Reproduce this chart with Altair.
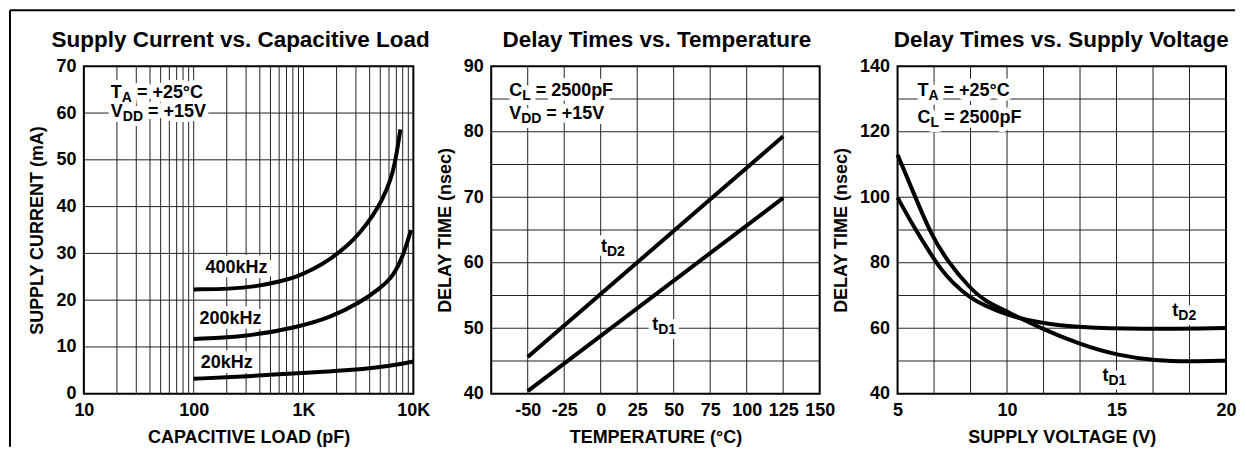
import altair as alt
import pandas as pd

FONT = "Liberation Sans"
GRID = "#222222"

# ---------------- Panel 1: Supply Current vs. Capacitive Load ----------------
p1_title = "Supply Current vs. Capacitive Load"
p1_xtitle = "CAPACITIVE LOAD (pF)"
p1_ytitle = "SUPPLY CURRENT (mA)"
p1_xdomain = [10, 10000]
p1_ydomain = [0, 70]
p1_xtick_values = [10, 100, 1000, 10000]
p1_xtick_labels = ["10", "100", "1K", "10K"]
p1_ytick_values = [0, 10, 20, 30, 40, 50, 60, 70]
p1_xgrid = [20, 30, 40, 50, 60, 70, 80, 90, 100, 200, 300, 400, 500, 600, 700, 800, 900,
            1000, 2000, 3000, 4000, 5000, 6000, 7000, 8000, 9000]
p1_ygrid = [10, 20, 30, 40, 50, 60]

p1_cap_400 = [100, 217, 366, 618, 864, 1233, 1758, 2512, 3296, 4325, 5224, 6180, 6858, 7621]
p1_i_400 = [22.3, 22.4, 22.9, 24.0, 25.0, 26.6, 28.8, 31.6, 34.5, 38.2, 41.5, 45.5, 49.5, 56.5]
p1_cap_200 = [100, 309, 871, 1758, 3296, 5012, 6180, 6858, 7621, 8455, 9532]
p1_i_200 = [11.7, 12.2, 14.2, 16.3, 19.5, 22.6, 24.6, 26.2, 28.3, 31.0, 35.0]
p1_cap_20 = [100, 300, 617, 1000, 2496, 5000, 7500, 10000]
p1_i_20 = [3.2, 3.7, 4.2, 4.45, 5.0, 5.7, 6.3, 6.9]

p1_series_text = ["400kHz", "200kHz", "20kHz"]
p1_series_x = [128, 113, 116]
p1_series_y = [25.9, 14.9, 5.4]
p1_note_x = [17.6, 17.6]
p1_note_y = [63.2, 59.2]

# ---------------- Panel 2: Delay Times vs. Temperature ----------------
p2_title = "Delay Times vs. Temperature"
p2_xtitle = "TEMPERATURE (°C)"
p2_ytitle = "DELAY TIME (nsec)"
p2_xdomain = [-75, 150]
p2_ydomain = [40, 90]
p2_xtick_values = [-50, -25, 0, 25, 50, 75, 100, 125, 150]
p2_xtick_labels = ["-50", "-25", "0", "25", "50", "75", "100", "125", "150"]
p2_ytick_values = [40, 50, 60, 70, 80, 90]
p2_xgrid = [-50, -25, 0, 25, 50, 75, 100, 125]
p2_ygrid = [45, 50, 55, 60, 65, 70, 75, 80, 85]
p2_temp = [-50, 125]
p2_td1 = [40.4, 69.9]
p2_td2 = [45.6, 79.3]
p2_series_x = [0.2, 35.3]
p2_series_y = [61.6, 49.7]
p2_note_x = [-62.7, -62.7]
p2_note_y = [85.4, 81.9]

# ---------------- Panel 3: Delay Times vs. Supply Voltage ----------------
p3_title = "Delay Times vs. Supply Voltage"
p3_xtitle = "SUPPLY VOLTAGE (V)"
p3_ytitle = "DELAY TIME (nsec)"
p3_xdomain = [5, 20]
p3_ydomain = [40, 140]
p3_xtick_values = [5, 10, 15, 20]
p3_ytick_values = [40, 60, 80, 100, 120, 140]
p3_xgrid = [6.667, 8.333, 10, 11.667, 13.333, 15, 16.667, 18.333]
p3_ygrid = [50, 60, 70, 80, 90, 100, 110, 120, 130]
p3_v_td2 = [5.0, 5.76, 6.52, 7.0, 7.5, 8.28, 9.0, 10.1, 11.47, 13.3, 16.0, 20.0]
p3_td2 = [99.9, 90.7, 82.6, 77.8, 74.0, 69.4, 66.8, 63.8, 61.6, 60.2, 59.7, 60.1]
p3_v_td1 = [5.0, 5.76, 6.52, 7.28, 8.28, 9.0, 10.1, 11.47, 13.3, 15.1, 16.8, 18.3, 20.0]
p3_td1 = [113.0, 100.9, 88.7, 80.5, 72.4, 68.2, 64.8, 60.2, 55.1, 51.6, 50.1, 49.8, 50.1]
p3_series_x = [17.55, 14.36]
p3_series_y = [63.8, 44.0]
p3_note_x = [5.91, 5.91]
p3_note_y = [130.9, 122.7]

# ---------------- helpers ----------------
ADV = {'T': 611, 'A': 722, 'V': 667, 'D': 722, 'C': 722, 'L': 611, 't': 333, ' ': 278,
       '=': 584, '+': 584, '°': 400, 'p': 611, 'F': 611}
for d in "0123456789":
    ADV[d] = 556


def text_width(s, size):
    return sum(ADV.get(c, 600) for c in s) * size / 1000.0


def label_expr(values, labels):
    return "%s[indexof(%s, datum.value)]" % (str(labels), str(values))


def axis(title, values, lexpr=None):
    kw = dict(title=title, values=values, grid=False, ticks=False, domain=False,
              labelFont=FONT, labelFontSize=18, labelFontWeight="bold", labelColor="black",
              labelPadding=8, labelFlush=False, labelOverlap=False,
              titleFont=FONT, titleFontSize=18, titleFontWeight="bold", titleColor="black",
              titlePadding=9)
    if lexpr:
        kw["labelExpr"] = lexpr
    return alt.Axis(**kw)


def make_enc(domain, ttl, values, log=False, lexpr=None, ch="x"):
    if log:
        sc = alt.Scale(domain=domain, type="log", nice=False)
    else:
        sc = alt.Scale(domain=domain, nice=False, zero=False)
    ax = axis(ttl, values, lexpr)

    def f(field):
        if ch == "x":
            return alt.X(field, type="quantitative", scale=sc, axis=ax)
        return alt.Y(field, type="quantitative", scale=sc, axis=ax)
    return f


def grid_layers(xgrid, ygrid, X, Y):
    return [
        alt.Chart(pd.DataFrame({"g": xgrid})).mark_rule(color=GRID, strokeWidth=1).encode(x=X("g")),
        alt.Chart(pd.DataFrame({"g": ygrid})).mark_rule(color=GRID, strokeWidth=1).encode(y=Y("g")),
    ]


def rich(xv, yv, parts, X, Y, halo):
    out = []
    dx = 0.0
    df = pd.DataFrame({"x": [xv], "y": [yv]})
    for txt, size, dy in parts:
        lead = len(txt) - len(txt.lstrip(" "))
        dx += text_width(" " * lead, size)
        shown = txt.lstrip(" ")
        kw = dict(align="left", baseline="alphabetic", font=FONT, fontSize=size,
                  fontWeight="bold", dx=round(dx, 2), dy=dy)
        if halo:
            m = alt.Chart(df).mark_text(color="white", stroke="white", strokeWidth=10,
                                        strokeJoin="round", **kw)
        else:
            m = alt.Chart(df).mark_text(color="black", **kw)
        out.append(m.encode(x=X("x"), y=Y("y"), text=alt.value(shown)))
        dx += text_width(shown, size)
    return out


def lines(df, X, Y):
    return alt.Chart(df).mark_line(color="black", strokeWidth=4, strokeCap="butt",
                                   interpolate="basis").encode(
        x=X("x"), y=Y("y"), detail="s:N")


def panel_title(text, cx):
    return alt.Chart(pd.DataFrame({"a": [0]})).mark_text(
        align="center", baseline="alphabetic", font=FONT, fontSize=22.5, fontWeight="bold",
        color="black").encode(x=alt.value(cx), y=alt.value(-19), text=alt.value(text))


MAIN, SUB, SDY = 18, 14, 4
lab_kw = dict(align="left", baseline="alphabetic", font=FONT, fontSize=MAIN, fontWeight="bold")

# ---------------- Panel 1 ----------------
X1 = make_enc(p1_xdomain, p1_xtitle, p1_xtick_values, log=True,
              lexpr=label_expr(p1_xtick_values, p1_xtick_labels))
Y1 = make_enc(p1_ydomain, p1_ytitle, p1_ytick_values, ch="y")
d1 = pd.concat([
    pd.DataFrame({"x": p1_cap_400, "y": p1_i_400, "s": "400kHz"}),
    pd.DataFrame({"x": p1_cap_200, "y": p1_i_200, "s": "200kHz"}),
    pd.DataFrame({"x": p1_cap_20, "y": p1_i_20, "s": "20kHz"}),
])
lab1 = pd.DataFrame({"x": p1_series_x, "y": p1_series_y, "t": p1_series_text})
notes1 = [[("T", MAIN, 0), ("A", SUB, SDY), (" = +25°C", MAIN, 0)],
          [("V", MAIN, 0), ("DD", SUB, SDY), (" = +15V", MAIN, 0)]]
halo1, txt1 = [], []
for i, parts in enumerate(notes1):
    halo1 += rich(p1_note_x[i], p1_note_y[i], parts, X1, Y1, True)
    txt1 += rich(p1_note_x[i], p1_note_y[i], parts, X1, Y1, False)
halo1.append(alt.Chart(lab1).mark_text(color="white", stroke="white", strokeWidth=10,
                                       strokeJoin="round", **lab_kw).encode(
    x=X1("x"), y=Y1("y"), text="t:N"))
txt1.append(alt.Chart(lab1).mark_text(color="black", **lab_kw).encode(
    x=X1("x"), y=Y1("y"), text="t:N"))
dummy = pd.DataFrame({"a": [0]})
border = [
    alt.Chart(dummy).mark_rule(color="black", strokeWidth=2).encode(
        x=alt.value(-74), x2=alt.value(1153), y=alt.value(-56)),
    alt.Chart(dummy).mark_rule(color="black", strokeWidth=2).encode(
        x=alt.value(-74), y=alt.value(-56), y2=alt.value(381)),
]
panel1 = alt.layer(*grid_layers(p1_xgrid, p1_ygrid, X1, Y1), *halo1, lines(d1, X1, Y1), *txt1,
                   panel_title(p1_title, 157), *border).properties(width=330, height=328)

# ---------------- Panel 2 ----------------
X2 = make_enc(p2_xdomain, p2_xtitle, p2_xtick_values,
              lexpr=label_expr(p2_xtick_values, p2_xtick_labels))
Y2 = make_enc(p2_ydomain, p2_ytitle, p2_ytick_values, ch="y")
d2 = pd.concat([
    pd.DataFrame({"x": p2_temp, "y": p2_td1, "s": "tD1"}),
    pd.DataFrame({"x": p2_temp, "y": p2_td2, "s": "tD2"}),
])
notes2 = [[("C", MAIN, 0), ("L", SUB, SDY), (" = 2500pF", MAIN, 0)],
          [("V", MAIN, 0), ("DD", SUB, SDY), (" = +15V", MAIN, 0)]]
ser2 = [[("t", MAIN, 0), ("D2", SUB, SDY)], [("t", MAIN, 0), ("D1", SUB, SDY)]]
halo2, txt2 = [], []
for i, parts in enumerate(notes2):
    halo2 += rich(p2_note_x[i], p2_note_y[i], parts, X2, Y2, True)
    txt2 += rich(p2_note_x[i], p2_note_y[i], parts, X2, Y2, False)
for i, parts in enumerate(ser2):
    halo2 += rich(p2_series_x[i], p2_series_y[i], parts, X2, Y2, True)
    txt2 += rich(p2_series_x[i], p2_series_y[i], parts, X2, Y2, False)
panel2 = alt.layer(*grid_layers(p2_xgrid, p2_ygrid, X2, Y2), *halo2, lines(d2, X2, Y2),
                   *txt2, panel_title(p2_title, 166)).properties(width=329, height=328)

# ---------------- Panel 3 ----------------
X3 = make_enc(p3_xdomain, p3_xtitle, p3_xtick_values)
Y3 = make_enc(p3_ydomain, p3_ytitle, p3_ytick_values, ch="y")
d3 = pd.concat([
    pd.DataFrame({"x": p3_v_td1, "y": p3_td1, "s": "tD1"}),
    pd.DataFrame({"x": p3_v_td2, "y": p3_td2, "s": "tD2"}),
])
notes3 = [[("T", MAIN, 0), ("A", SUB, SDY), (" = +25°C", MAIN, 0)],
          [("C", MAIN, 0), ("L", SUB, SDY), (" = 2500pF", MAIN, 0)]]
halo3, txt3 = [], []
for i, parts in enumerate(notes3):
    halo3 += rich(p3_note_x[i], p3_note_y[i], parts, X3, Y3, True)
    txt3 += rich(p3_note_x[i], p3_note_y[i], parts, X3, Y3, False)
for i, parts in enumerate(ser2):
    halo3 += rich(p3_series_x[i], p3_series_y[i], parts, X3, Y3, True)
    txt3 += rich(p3_series_x[i], p3_series_y[i], parts, X3, Y3, False)
panel3 = alt.layer(*grid_layers(p3_xgrid, p3_ygrid, X3, Y3), *halo3, lines(d3, X3, Y3),
                   *txt3, panel_title(p3_title, 164)).properties(width=329, height=328)

chart = alt.hconcat(panel1, panel2, panel3, spacing=78, bounds="flush").properties(
    padding=0, background="white"
).configure_view(stroke="black", strokeWidth=2)

chart.save("out.html", embed_options={"renderer": "svg", "actions": False})
